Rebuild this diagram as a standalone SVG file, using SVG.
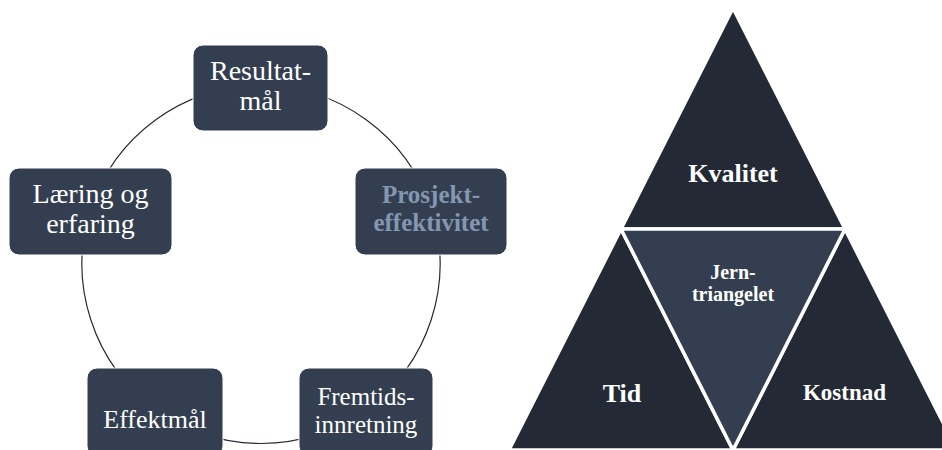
<svg xmlns="http://www.w3.org/2000/svg" width="942" height="450" viewBox="0 0 942 450">
  <style>
    .box { fill: #333f50; stroke: #ffffff; stroke-width: 1; }
    .lbl { font-family: "Liberation Serif", "Times New Roman", serif; fill: #ffffff; text-anchor: middle; }
    .hi { font-weight: bold; fill: #8497b0; }
    .arc { fill: none; stroke: #242a35; stroke-width: 1.2; }
    .tri { fill: #242a35; stroke: #ffffff; stroke-width: 3.5; stroke-linejoin: miter; }
    .tri-mid { fill: #333f50; stroke: #ffffff; stroke-width: 3.5; }
    .tlbl { font-family: "Liberation Serif", "Times New Roman", serif; font-weight: bold; fill: #ffffff; text-anchor: middle; }
  </style>

  <rect width="942" height="450" fill="#ffffff"/>

  <!-- cycle arcs -->
  <g id="connectors">
    <path class="arc" d="M 261 85.5 A 179 179 0 0 1 431.2 209.2"/>
    <path class="arc" d="M 431.2 209.2 A 179 179 0 0 1 366.2 409.3"/>
    <path class="arc" d="M 366.2 409.3 A 179 179 0 0 1 155.8 409.3"/>
    <path class="arc" d="M 155.8 409.3 A 179 179 0 0 1 90.8 209.2"/>
    <path class="arc" d="M 90.8 209.2 A 179 179 0 0 1 261 85.5"/>
  </g>

  <g id="node-resultatmal">
    <rect class="box" x="193" y="45" width="135" height="86" rx="10"/>
    <text class="lbl" font-size="28" x="260.5" y="80">Resultat-</text>
    <text class="lbl" font-size="28" x="260.5" y="110">mål</text>
  </g>

  <g id="node-prosjekteffektivitet">
    <rect class="box" x="355" y="168" width="152" height="87" rx="10"/>
    <text class="lbl hi" font-size="25" x="431" y="203">Prosjekt-</text>
    <text class="lbl hi" font-size="25" x="431" y="231">effektivitet</text>
  </g>

  <g id="node-fremtidsinnretning">
    <rect class="box" x="299" y="368" width="134" height="88" rx="10"/>
    <text class="lbl" font-size="25" x="366" y="405">Fremtids-</text>
    <text class="lbl" font-size="25" x="366" y="433">innretning</text>
  </g>

  <g id="node-effektmal">
    <rect class="box" x="87" y="368" width="136" height="88" rx="10"/>
    <text class="lbl" font-size="26" x="155" y="428">Effektmål</text>
  </g>

  <g id="node-laering">
    <rect class="box" x="9" y="168" width="163" height="87" rx="10"/>
    <text class="lbl" font-size="28" x="90.5" y="203">Læring og</text>
    <text class="lbl" font-size="28" x="90.5" y="233">erfaring</text>
  </g>

  <!-- iron triangle -->
  <g id="tri-kvalitet">
    <polygon class="tri" points="733,8 621,229 845,229"/>
    <text class="tlbl" font-size="26" x="733" y="182">Kvalitet</text>
  </g>
  <g id="tri-tid">
    <polygon class="tri" points="621,229 509,450 733,450"/>
    <text class="tlbl" font-size="26" x="622" y="402">Tid</text>
  </g>
  <g id="tri-kostnad">
    <polygon class="tri" points="845,229 733,450 957,450"/>
    <text class="tlbl" font-size="23" x="844.5" y="400">Kostnad</text>
  </g>
  <g id="tri-jern">
    <polygon class="tri-mid" points="621,229 845,229 733,450"/>
    <text class="tlbl" font-size="20" x="733" y="279">Jern-</text>
    <text class="tlbl" font-size="20" x="733" y="301">triangelet</text>
  </g>
</svg>
